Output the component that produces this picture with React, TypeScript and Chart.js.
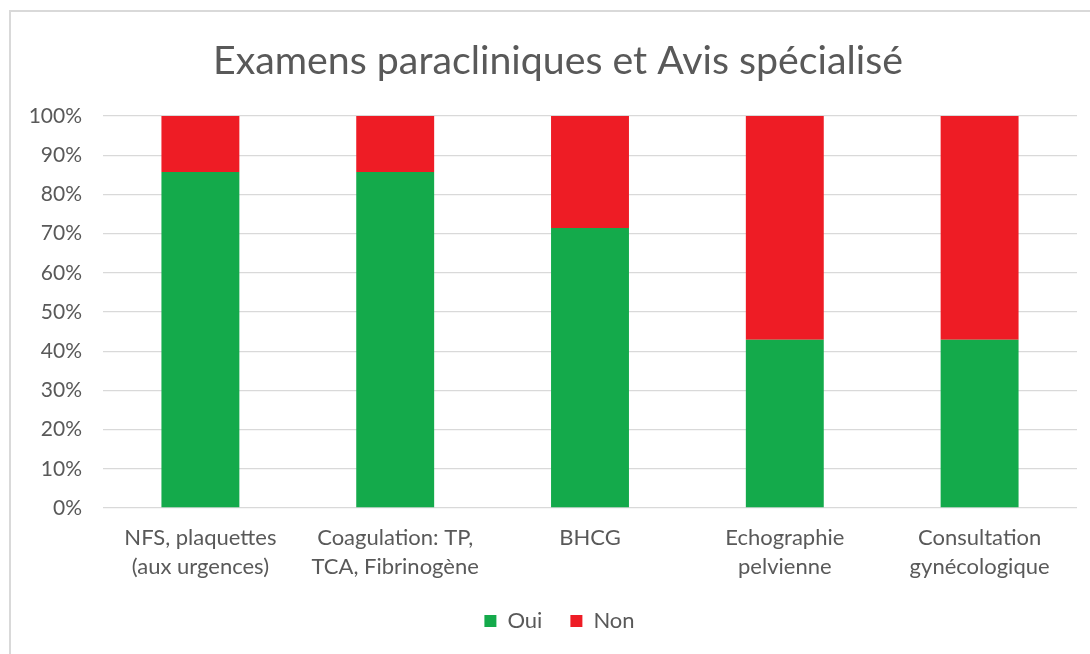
import React, { useEffect, useRef } from "react";
import { Chart, registerables } from "chart.js";

Chart.register(...registerables);

const categories: (string | string[])[] = [
  ["NFS, plaquettes", "(aux urgences)"],
  ["Coagulation: TP,", "TCA, Fibrinogène"],
  "BHCG",
  ["Echographie", "pelvienne"],
  ["Consultation", "gynécologique"],
];
const ouiValues = [85.7, 85.7, 71.4, 42.9, 42.9];
const nonValues = [14.3, 14.3, 28.6, 57.1, 57.1];
const titleText = "Examens paracliniques et Avis spécialisé";

const FONT = "Lato, 'Open Sans', sans-serif";
const TEXT = "#595959";

const titlePlugin = {
  id: "offsetTitle",
  afterLayout(chart: any) {
    // the original chart frame is wider than the visible crop: centre the legend on it
    if (chart.legend) {
      chart.legend.left += 21;
      chart.legend.right += 21;
    }
  },
  afterDraw(chart: any) {
    const ctx = chart.ctx;
    ctx.save();
    ctx.font = `normal 39.3px ${FONT}`;
    ctx.fillStyle = TEXT;
    ctx.textAlign = "center";
    ctx.textBaseline = "middle";
    ctx.fillText(titleText, 558, 61);
    ctx.restore();
  },
};

export default function App() {
  const ref = useRef<HTMLCanvasElement | null>(null);
  useEffect(() => {
    if (!ref.current) return;
    const chart = new Chart(ref.current, {
      type: "bar",
      data: {
        labels: categories as any,
        datasets: [
          { label: "Oui", data: ouiValues, backgroundColor: "#14AA4B", borderWidth: 0 },
          { label: "Non", data: nonValues, backgroundColor: "#EE1C25", borderWidth: 0 },
        ],
      },
      plugins: [titlePlugin],
      options: {
        animation: false,
        responsive: false,
        maintainAspectRatio: false,
        layout: { padding: { left: 0, right: 13, top: 116, bottom: 12 } },
        datasets: { bar: { barPercentage: 0.4, categoryPercentage: 1 } },
        plugins: {
          title: { display: false },
          legend: {
            position: "bottom",
            labels: {
              color: TEXT,
              font: { family: FONT, size: 22 },
              boxWidth: 12,
              boxHeight: 12,
              padding: 28,
            },
          },
          tooltip: { enabled: false },
        },
        scales: {
          x: {
            stacked: true,
            grid: { display: false, drawTicks: false },
            border: { display: false },
            ticks: {
              color: TEXT,
              font: { family: FONT, size: 22, lineHeight: 1.3 },
              padding: 16,
              maxRotation: 0,
              autoSkip: false,
            },
            afterFit: (s: any) => {
              s.height = 74;
            },
          },
          y: {
            stacked: true,
            min: 0,
            max: 100,
            grid: { color: "#D9D9D9", lineWidth: 1.3, drawTicks: false },
            border: { display: false },
            ticks: {
              stepSize: 10,
              color: TEXT,
              font: { family: FONT, size: 21 },
              padding: 21,
              callback: (v: any) => v + "%",
            },
            afterFit: (s: any) => {
              s.width = 103;
            },
          },
        },
      },
    });
    return () => chart.destroy();
  }, []);
  return (
    <div
      style={{
        position: "absolute",
        left: 0,
        top: 0,
        width: 1090,
        height: 654,
        overflow: "hidden",
        background: "#fff",
      }}
    >
      <div
        style={{
          position: "absolute",
          left: 9,
          top: 10,
          width: 1200,
          height: 800,
          borderTop: "2px solid #D9D9D9",
          borderLeft: "2px solid #D9D9D9",
        }}
      />
      <canvas
        ref={ref}
        width={1090}
        height={654}
        style={{ position: "absolute", left: 0, top: 0, width: 1090, height: 654 }}
      />
    </div>
  );
}
